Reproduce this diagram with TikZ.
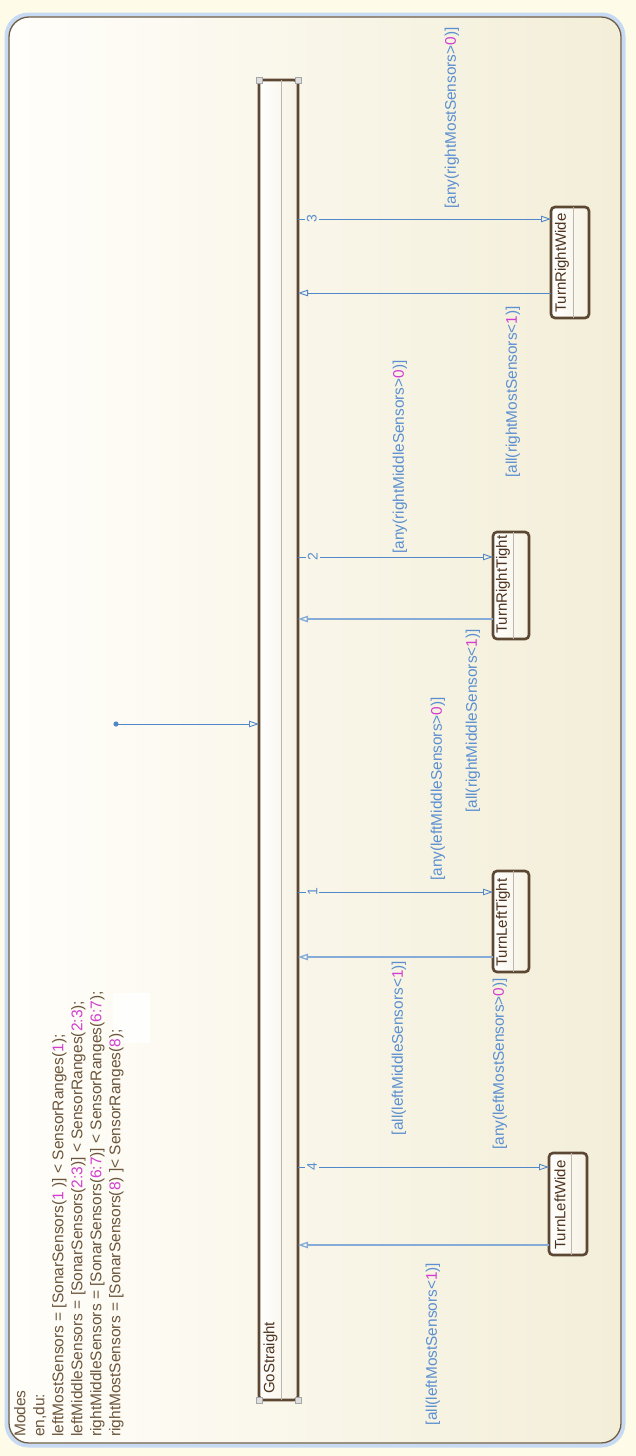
\documentclass[tikz,border=0pt]{standalone}
\usepackage{fontspec}
\setmainfont{Liberation Sans}
\usetikzlibrary{arrows.meta,shadows}
\definecolor{bgout}{HTML}{FFFBE9}
\definecolor{chartL}{HTML}{FFFEFA}
\definecolor{chartR}{HTML}{F3EED8}
\definecolor{chartM}{HTML}{F9F6E8}
\definecolor{blueedge}{HTML}{C6DAF3}
\definecolor{chartedge}{HTML}{6E5C48}
\definecolor{stedge}{HTML}{5C4733}
\definecolor{stR}{HTML}{F6F1E2}
\definecolor{divc}{HTML}{BDB6AA}
\definecolor{trans}{HTML}{5288C8}
\definecolor{transL}{HTML}{86ABD7}
\definecolor{lbl}{HTML}{5B8FD0}
\definecolor{mag}{HTML}{D23ED0}
\definecolor{txt}{HTML}{6B553C}
\definecolor{sttxt}{HTML}{4E3420}
\tikzset{
  stbox/.style={draw=stedge, line width=2.6pt, rounded corners=4pt, left color=white, right color=stR,
    inner sep=0pt, outer sep=0pt, drop shadow={opacity=0.2, shadow xshift=1.2pt, shadow yshift=-1.2pt}},
  divider/.style={draw=divc, line width=0.7pt},
  stlabel/.style={text=sttxt, font=\fontsize{15}{18}\selectfont, rotate=90, anchor=west, inner sep=0pt},
  tr/.style={draw=trans, line width=0.9pt, -{Triangle[open, length=10pt, width=6.5pt]}},
  trback/.style={tr, draw=transL, line width=1.3pt},
  cond/.style={text=lbl, font=\fontsize{15.4}{18}\selectfont, rotate=90, inner sep=0pt},
  num/.style={text=lbl, font=\fontsize{14}{14}\selectfont, rotate=90, fill=chartM, inner sep=2pt},
  handle/.style={draw=gray!70, fill=gray!25, line width=0.6pt, minimum size=6pt, inner sep=0pt},
  modetxt/.style={text=txt, font=\fontsize{15.5}{19}\selectfont, rotate=90, inner sep=0pt, align=left}
}
\begin{document}
\begin{tikzpicture}[x=1pt,y=-1pt]
\fill[bgout] (0,0) rectangle (636,1456);
\useasboundingbox (0,0) rectangle (636,1456);
% chart frame
\draw[blueedge, line width=4pt, rounded corners=22pt] (6.5,14.5) rectangle (623.5,1445.5);
\path[left color=chartL, right color=chartR, draw=chartedge, line width=1.3pt, rounded corners=20pt] (9,17) rectangle (621,1443);
\fill[white, opacity=0.8] (113,993) rectangle (150,1043);
% chart text
\node[modetxt, anchor=north west] (mtxt) at (14,1437) {Modes\\
en,du:\\
leftMostSensors = [SonarSensors(\textcolor{mag}{1} )] < SensorRanges(\textcolor{mag}{1});\\
leftMiddleSensors = [SonarSensors(\textcolor{mag}{2:3})] < SensorRanges(\textcolor{mag}{2:3});\\
rightMiddleSensors = [SonarSensors(\textcolor{mag}{6:7})] < SensorRanges(\textcolor{mag}{6:7});\\
rightMostSensors = [SonarSensors(\textcolor{mag}{8}) ]< SensorRanges(\textcolor{mag}{8});};
% states
\node[stbox, anchor=north west, minimum width=39pt, minimum height=1320pt] (gs) at (259,80) {};
\draw[divider] ([xshift=22pt]gs.north west) -- ([xshift=22pt]gs.south west);
\node[stlabel] at ([xshift=11.5pt, yshift=6pt]gs.south west) {GoStraight};
\node[handle] (h1) at (gs.north west) {};
\node[handle] (h2) at (gs.north east) {};
\node[handle] (h3) at (gs.south west) {};
\node[handle] (h4) at (gs.south east) {};

\node[stbox, anchor=north west, minimum width=38pt, minimum height=111pt] (trw) at (551,207) {};
\draw[divider] ([xshift=22pt]trw.north west) -- ([xshift=22pt]trw.south west);
\node[stlabel] at ([xshift=11pt, yshift=5pt]trw.south west) {TurnRightWide};

\node[stbox, anchor=north west, minimum width=36pt, minimum height=107pt] (trt) at (493,532) {};
\draw[divider] ([xshift=20pt]trt.north west) -- ([xshift=20pt]trt.south west);
\node[stlabel] at ([xshift=10pt, yshift=5pt]trt.south west) {TurnRightTight};

\node[stbox, anchor=north west, minimum width=36pt, minimum height=101pt] (tlt) at (493,871) {};
\draw[divider] ([xshift=20pt]tlt.north west) -- ([xshift=20pt]tlt.south west);
\node[stlabel] at ([xshift=10pt, yshift=5pt]tlt.south west) {TurnLeftTight};

\node[stbox, anchor=north west, minimum width=38pt, minimum height=102pt] (tlw) at (549,1153) {};
\draw[divider] ([xshift=22pt]tlw.north west) -- ([xshift=22pt]tlw.south west);
\node[stlabel] at ([xshift=11pt, yshift=5pt]tlw.south west) {TurnLeftWide};

% default transition
\coordinate (dflt) at (116,724);
\fill[trans] (dflt) circle (2.6pt);
\draw[tr] (dflt) -- (gs.west |- dflt);

% transitions
\draw[tr] (gs.east |- 0,219) -- node[num, pos=0.055] {3} (trw.west |- 0,219);
\draw[tr] (trw.west |- 0,293) -- (gs.east |- 0,293);
\draw[tr] (gs.east |- 0,557) -- node[num, pos=0.075] {2} (trt.west |- 0,557);
\draw[trback] (trt.west |- 0,619) -- (gs.east |- 0,619);
\draw[tr] (gs.east |- 0,892) -- node[num, pos=0.075] {1} (tlt.west |- 0,892);
\draw[trback] (tlt.west |- 0,957) -- (gs.east |- 0,957);
\draw[tr] (gs.east |- 0,1167) -- node[num, pos=0.056] {4} (tlw.west |- 0,1167);
\draw[trback] (tlw.west |- 0,1245) -- (gs.east |- 0,1245);

% conditions
\node[cond] (c1) at (452,118) {[any(rightMostSensors>\textcolor{mag}{0})]};
\node[cond] (c2) at (513,392) {[all(rightMostSensors<\textcolor{mag}{1})]};
\node[cond] (c3) at (400,457) {[any(rightMiddleSensors>\textcolor{mag}{0})]};
\node[cond] (c4) at (473,721) {[all(rightMiddleSensors<\textcolor{mag}{1})]};
\node[cond] (c5) at (438,789) {[any(leftMiddleSensors>\textcolor{mag}{0})]};
\node[cond] (c6) at (399,1048) {[all(leftMiddleSensors<\textcolor{mag}{1})]};
\node[cond] (c7) at (500,1064) {[any(leftMostSensors>\textcolor{mag}{0})]};
\node[cond] (c8) at (433,1344) {[all(leftMostSensors<\textcolor{mag}{1})]};
\end{tikzpicture}
\end{document}
